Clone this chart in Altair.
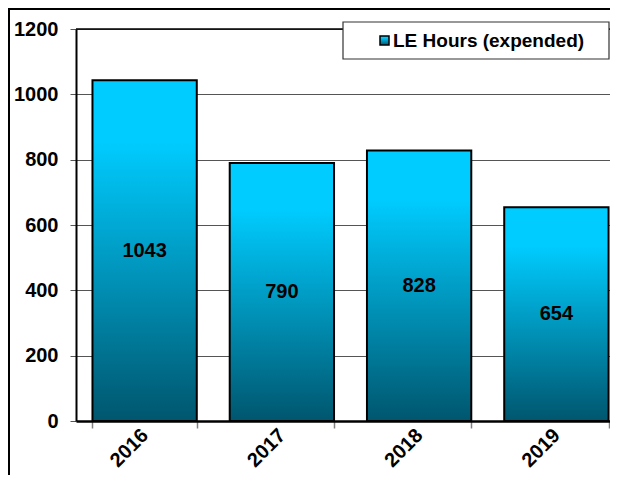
import altair as alt
import pandas as pd

years = ["2016", "2017", "2018", "2019"]
hours = [1043, 790, 828, 654]
series_name = "LE Hours (expended)"

FONT = "Liberation Sans"

df = pd.DataFrame({"year": years, "hours": hours})

grad = alt.Gradient(
    gradient="linear", x1=0, y1=0, x2=0, y2=1,
    stops=[
        alt.GradientStop(offset=0, color="#00CCFF"),
        alt.GradientStop(offset=0.18, color="#00CCFF"),
        alt.GradientStop(offset=1, color="#00566E"),
    ],
)

xscale = alt.Scale(domain=years, range=[0, 549], paddingInner=0.24, paddingOuter=0.12)
yscale = alt.Scale(domain=[0, 1200], nice=False)

base = alt.Chart(df)

bars = base.mark_bar(color=grad, stroke="black", strokeWidth=2).encode(
    x=alt.X("year:N", scale=xscale, sort=years,
            axis=alt.Axis(title=None, tickBand="extent", labelAngle=-45,
                          labelAlign="right", labelBaseline="middle",
                          labelFont=FONT, labelFontSize=20, labelFontWeight="bold",
                          labelColor="black", labelPadding=4,
                          tickColor="#808080", tickSize=7, tickWidth=1.5,
                          domainColor="black", domainWidth=2.5, grid=False)),
    y=alt.Y("hours:Q", scale=yscale,
            axis=alt.Axis(title=None, values=[0, 200, 400, 600, 800, 1000, 1200],
                          format="d",
                          labelFont=FONT, labelFontSize=20, labelFontWeight="bold",
                          labelColor="black", labelPadding=12,
                          tickColor="#555555", tickSize=6, tickWidth=1,
                          domainColor="black", domainWidth=2,
                          grid=True, gridColor="#555555", gridWidth=1)),
)

labels = base.transform_calculate(mid="datum.hours / 2").mark_text(
    font=FONT, fontSize=20, fontWeight="bold", color="black", baseline="middle"
).encode(
    x=alt.X("year:N", scale=xscale, sort=years),
    y=alt.Y("mid:Q", scale=yscale),
    text=alt.Text("hours:Q"),
)

dummy = alt.Chart(pd.DataFrame({"a": [0]}))

top_rule = dummy.mark_rule(color="black", strokeWidth=1.5).encode(
    y=alt.datum(1200, scale=yscale), x=alt.value(0), x2=alt.value(534)
)

frame_left = dummy.mark_rule(color="black", strokeWidth=2).encode(
    x=alt.value(-67), y=alt.value(-20), y2=alt.value(446)
)
frame_top = dummy.mark_rule(color="black", strokeWidth=2).encode(
    x=alt.value(-68), x2=alt.value(534), y=alt.value(-20)
)

leg_box = dummy.mark_rect(fill="white", stroke="#333333", strokeWidth=1.2).encode(
    x=alt.value(267), x2=alt.value(533), y=alt.value(-7), y2=alt.value(30)
)

leg_sym = dummy.mark_rect(color=grad, stroke="black", strokeWidth=1.5).encode(
    x=alt.value(304), x2=alt.value(313), y=alt.value(7), y2=alt.value(16)
)

leg_text = alt.Chart(pd.DataFrame({"name": [series_name]})).mark_text(
    font=FONT, fontSize=19, fontWeight="bold", color="black",
    align="left", baseline="middle"
).encode(x=alt.value(317), y=alt.value(12), text="name:N")

chart = alt.layer(frame_left, frame_top, bars, labels, top_rule, leg_box, leg_sym, leg_text).properties(
    width=534, height=392,
    autosize=alt.AutoSizeParams(type="none"),
    padding={"left": 68, "top": 21, "right": 0, "bottom": 54},
).configure_view(stroke=None)

chart.save("out.html", embed_options={"renderer": "svg", "actions": False})
